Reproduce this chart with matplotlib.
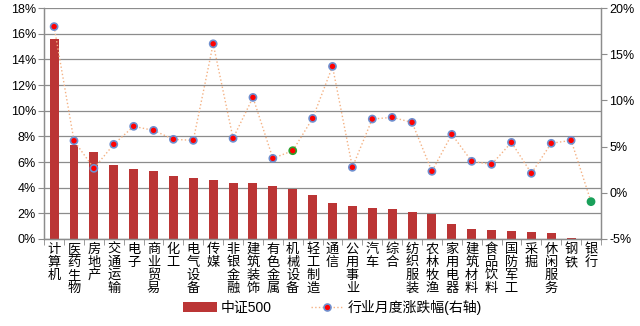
import matplotlib
matplotlib.use("Agg")
import matplotlib.pyplot as plt
import numpy as np
from matplotlib.ticker import FuncFormatter, MultipleLocator

plt.rcParams["font.family"] = ["Liberation Sans", "Noto Sans CJK SC", "DejaVu Sans"]

industries = [
    "计算机", "医药生物", "房地产", "交通运输", "电子", "商业贸易", "化工", "电气设备",
    "传媒", "非银金融", "建筑装饰", "有色金属", "机械设备", "轻工制造", "通信", "公用事业",
    "汽车", "综合", "纺织服装", "农林牧渔", "家用电器", "建筑材料", "食品饮料", "国防军工",
    "采掘", "休闲服务", "钢铁", "银行",
]
csi500 = [
    15.6, 7.3, 6.8, 5.76, 5.45, 5.3, 4.9, 4.75,
    4.6, 4.36, 4.36, 4.12, 3.9, 3.42, 2.8, 2.57,
    2.41, 2.33, 2.1, 1.97, 1.17, 0.78, 0.7, 0.65,
    0.54, 0.47, 0.05, 0.0,
]
monthly_change = [
    18.0, 5.64, 2.65, 5.25, 7.2, 6.76, 5.79, 5.68,
    16.14, 5.9, 10.33, 3.73, 4.56, 8.06, 13.69, 2.76,
    7.99, 8.17, 7.63, 2.33, 6.33, 3.41, 3.08, 5.46,
    2.11, 5.36, 5.68, -0.96,
]

BAR_COLOR = "#bb3535"
LINE_COLOR = "#f4b183"
GRID = "#8c8c8c"

x = np.arange(len(industries))

fig = plt.figure(figsize=(6.4, 3.26), dpi=100)
ax = fig.add_axes([0.069, 0.267, 0.870, 0.708])
ax2 = ax.twinx()

ax.bar(x, csi500, width=0.45, color=BAR_COLOR, zorder=2, label="中证500")
ax.set_ylim(0, 18)
ax.yaxis.set_major_locator(MultipleLocator(2))
ax.yaxis.set_major_formatter(FuncFormatter(lambda v, _: f"{v:.0f}%"))
ax.grid(axis="y", color=GRID, lw=0.9, zorder=0)
ax.set_axisbelow(True)
ax.set_xlim(-0.5, len(industries) - 0.5)

ax.set_xticks(x)
ax.set_xticklabels(["\n".join(name) for name in industries], fontsize=9.5,
                   family=["Noto Sans CJK SC"], va="top", linespacing=0.98)
ax.tick_params(axis="x", length=0, pad=3)
ax.set_xticks(np.arange(-0.5, len(industries)), minor=True)
ax.tick_params(axis="x", which="minor", length=4, color=GRID)
ax.tick_params(axis="y", length=4, color=GRID, labelsize=9, pad=2)

edge_colors = ["#6f8fcf"] * len(industries)
face_colors = ["#ff0000"] * len(industries)
edge_colors[12] = "#2ca02c"
face_colors[27] = "#1aa05a"
edge_colors[27] = "#1aa05a"

ax2.plot(x, monthly_change, ls=":", color=LINE_COLOR, lw=1.0, zorder=3)
ax2.scatter(x, monthly_change, s=26, c=face_colors, edgecolors=edge_colors,
            linewidths=1.2, zorder=4)
ax2.plot([], [], ls=":", color=LINE_COLOR, lw=1.0, marker="o", ms=5,
         mfc="#ff0000", mec="#6f8fcf", mew=1.2, label="行业月度涨跌幅(右轴)")
ax2.set_ylim(-5, 20)
ax2.yaxis.set_major_locator(MultipleLocator(5))
ax2.yaxis.set_major_formatter(FuncFormatter(lambda v, _: f"{v:.0f}%"))
ax2.tick_params(axis="y", length=4, color=GRID, labelsize=9, pad=2)

for a in (ax, ax2):
    a.spines["top"].set_visible(False)
    for side in ("left", "right", "bottom"):
        a.spines[side].set_color(GRID)
        a.spines[side].set_linewidth(0.9)

handles = ax.get_legend_handles_labels()[0] + ax2.get_legend_handles_labels()[0]
labels = ax.get_legend_handles_labels()[1] + ax2.get_legend_handles_labels()[1]
fig.legend(handles, labels, loc="lower center", bbox_to_anchor=(0.52, -0.005), ncol=2,
           frameon=False, handlelength=2.4, handletextpad=0.3, columnspacing=2.8,
           prop={"family": ["Liberation Sans", "Noto Sans CJK SC"], "size": 10})

fig.savefig("out.png", dpi=100, facecolor="white")
